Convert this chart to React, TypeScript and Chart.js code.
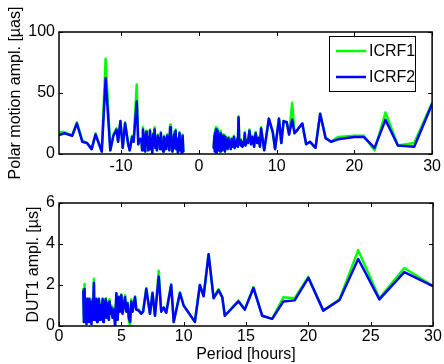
import React, { useEffect, useRef } from 'react';
import { Chart, registerables } from 'chart.js';

Chart.register(...registerables);

// ---------- Top panel: polar motion amplitude [µas] vs period [hours] ----------
const topPeriod = [
  -18, -17.3, -16.3, -15.7, -15.0, -14.4, -13.8, -13.3, -12.5, -12.0,
  -11.4, -11.0, -10.6, -10.4, -10.1, -9.8, -9.5, -9.1, -8.9, -8.6,
  -8.4, -8.0, -7.8, -7.6,
  -7.4, -7.3, -7.2, -7.1, -7.0, -6.9, -6.8, -6.7, -6.6, -6.5,
  -6.4, -6.3, -6.2, -6.1, -6.0, -5.9, -5.8, -5.7, -5.6, -5.5,
  -5.4, -5.3, -5.2, -5.1, -5.0, -4.9, -4.8, -4.7, -4.6, -4.5,
  -4.4, -4.3, -4.2, -4.1, -4.0, -3.9, -3.8, -3.7, -3.6, -3.5,
  -3.4, -3.3, -3.2, -3.1, -3.0, -2.9, -2.8, -2.7, -2.6, -2.5,
  -2.4, -2.3, -2.2, -2.1, -2.0,
  0,
  1.9, 2.0, 2.05, 2.1, 2.15, 2.2, 2.25, 2.3, 2.35, 2.4,
  2.5, 2.55, 2.6, 2.7, 2.75, 2.8, 2.9, 2.95, 3.0, 3.1,
  3.2, 3.3, 3.35, 3.4, 3.5, 3.6, 3.7, 3.8, 3.9, 4.0,
  4.1, 4.2, 4.3, 4.4, 4.5, 4.6, 4.7, 4.8, 4.9, 5.0,
  5.1, 5.2, 5.3, 5.4, 5.5, 5.6, 5.7, 5.8, 5.9, 6.0,
  6.1, 6.3, 6.5, 6.7, 6.9, 7.1, 7.3, 7.5, 7.7, 7.85,
  8.0, 8.4, 9.0, 9.5, 9.8, 10.3, 10.6, 10.9, 11.3, 11.6,
  12.0, 12.3, 12.7, 13.3, 13.8, 14.3, 15.0, 15.6, 16.3, 17.0,
  17.9, 20.0, 21.2, 22.6, 24.0, 25.6, 27.7, 30,
];

const topICRF1 = [
  18, 18, 15, 26, 11, 9, 4, 17, 2, 78,
  3, 16, 21, 10, 27, 5, 26, 8, 3, 15,
  11, 57, 8, 13,
  13, 3, 22, 5, 16, 2, 19, 8, 15, 3,
  11, 20, 4, 13, 1, 17, 7, 22, 5, 12,
  3, 16, 8, 14, 4, 18, 6, 11, 2, 15,
  9, 13, 4, 16, 7, 12, 3, 24, 6, 14,
  2, 11, 18, 5, 20, 4, 13, 1, 10, 18,
  3, 12, 0, 16, 2,
  null,
  6, 17, 2, 20, 4, 22, 1, 15, 6, 21,
  3, 18, 5, 14, 2, 19, 7, 13, 3, 16,
  5, 11, 2, 15, 6, 12, 4, 14, 7, 10,
  4, 13, 6, 9, 15, 5, 11, 7, 13, 6,
  31, 8, 12, 7, 11, 6, 10, 8, 18, 7,
  12, 9, 20, 8, 15, 6, 18, 9, 14, 6,
  22, 3, 29, 18, 4, 29, 9, 27, 26, 16,
  42, 17, 20, 25, 8, 10, 5, 33, 13, 10,
  14, 15, 15, 3, 34, 7, 9, 42,
];

const topICRF2 = [
  15.5, 17, 15, 25, 10, 9, 4, 16, 2, 62,
  3, 15, 20, 10, 27, 5, 25, 8, 3, 14,
  10, 43, 8, 12,
  12, 3, 20, 5, 15, 2, 18, 8, 14, 3,
  10, 19, 4, 12, 1, 16, 7, 20, 5, 11,
  3, 15, 8, 13, 4, 17, 6, 10, 2, 14,
  9, 12, 4, 15, 7, 11, 3, 22, 6, 13,
  2, 10, 16, 5, 19, 4, 12, 1, 9, 17,
  3, 11, 0, 15, 2,
  null,
  5, 15, 2, 18, 4, 20, 1, 14, 6, 19,
  3, 16, 5, 13, 2, 17, 7, 12, 3, 15,
  5, 10, 2, 14, 6, 11, 4, 13, 7, 9,
  4, 12, 6, 8, 14, 5, 10, 7, 12, 6,
  30, 8, 11, 7, 10, 6, 9, 8, 17, 7,
  11, 9, 19, 8, 14, 6, 17, 9, 13, 6,
  21, 3, 29, 18, 4, 29, 9, 27, 26, 16,
  28, 17, 20, 25, 8, 10, 5, 33, 13, 10,
  12, 14, 14, 5, 28, 7, 6, 41,
];

const topXTicks = [-10, 0, 10, 20, 30];
const topYTicks = [0, 50, 100];

// ---------- Bottom panel: DUT1 amplitude [µs] vs period [hours] ----------
const botPeriod = [
  1.95, 2.0, 2.05, 2.1, 2.15, 2.2, 2.25, 2.3, 2.35, 2.4,
  2.45, 2.5, 2.55, 2.6, 2.65, 2.7, 2.8, 2.85, 2.9, 2.95,
  3.0, 3.05, 3.1, 3.15, 3.2, 3.3, 3.35, 3.4, 3.5, 3.55,
  3.6, 3.7, 3.75, 3.8, 3.9, 4.0, 4.05, 4.1, 4.2, 4.3,
  4.4, 4.5, 4.6, 4.7, 4.8, 4.9, 5.0, 5.1, 5.2, 5.3,
  5.4, 5.5, 5.6, 5.7, 5.8, 5.9, 6.1, 6.2, 6.4, 6.6,
  6.75, 7.0, 7.3, 7.5, 7.7, 8.0, 8.2, 8.4, 8.6, 9.0,
  9.2, 9.7, 10.0, 10.9, 11.3, 11.6, 12.0, 12.4, 12.8, 13.1,
  13.3, 14.4, 14.9, 15.6, 16.3, 17.1, 18.0, 18.9, 20.0, 21.2,
  22.5, 24.0, 25.7, 27.7, 30,
];

const botICRF1 = [
  1.8, 0.2, 2.05, 0.3, 1.3, 0.1, 1.35, 0.4, 1.2, 0.2,
  1.35, 0.5, 1.1, 0.1, 1.3, 0.3, 2.3, 0.3, 1.3, 0.6,
  1.35, 0.2, 1.2, 0.5, 1.35, 0.3, 1.1, 0.6, 1.35, 0.2,
  1.3, 0.5, 1.35, 0.4, 1.2, 0.3, 1.3, 0.6, 1.0, 0.4,
  0.9, 0.0, 1.6, 0.3, 1.45, 0.7, 1.55, 0.6, 1.1, 1.5,
  0.7, 1.15, 0.3, 0.0, 1.3, 0.7, 1.45, 0.8, 0.8, 0.6,
  0.75, 1.85, 0.6, 1.65, 0.5, 2.7, 0.7, 0.9, 0.65, 2.05,
  0.2, 1.65, 1.0, 0.2, 2.0, 1.5, 3.5, 1.4, 1.8, 1.4,
  0.5, 1.25, 0.8, 1.9, 0.5, 0.35, 1.4, 1.35, 2.4, 0.75,
  1.3, 3.7, 1.35, 2.83, 1.95,
];

const botICRF2 = [
  1.7, 0.2, 1.8, 0.3, 1.2, 0.1, 1.3, 0.4, 1.1, 0.2,
  1.3, 0.5, 1.0, 0.1, 1.2, 0.3, 2.1, 0.3, 1.2, 0.6,
  1.3, 0.2, 1.1, 0.5, 1.3, 0.3, 1.0, 0.6, 1.3, 0.2,
  1.2, 0.5, 1.3, 0.4, 1.1, 0.3, 1.2, 0.6, 0.9, 0.4,
  0.8, 0.0, 1.6, 0.3, 1.4, 0.7, 1.5, 0.6, 1.0, 1.4,
  0.7, 1.1, 0.4, 0.2, 1.2, 0.7, 1.4, 0.8, 0.75, 0.6,
  0.7, 1.8, 0.6, 1.6, 0.5, 2.4, 0.7, 0.9, 0.65, 2.0,
  0.2, 1.6, 1.0, 0.2, 2.0, 1.45, 3.5, 1.35, 1.75, 1.4,
  0.5, 1.2, 0.8, 1.85, 0.5, 0.35, 1.2, 1.25, 2.35, 0.75,
  1.27, 3.27, 1.3, 2.63, 1.95,
];

const botXTicks = [0, 5, 10, 15, 20, 25, 30];
const botYTicks = [0, 2, 4, 6];

const seriesLabels = ['ICRF1', 'ICRF2'];
const seriesColors = ['#00ff00', '#0000ff'];

const FONT = "'Liberation Sans', Arial, Helvetica, sans-serif";

// Draws the MATLAB-style box with inward ticks on all four sides.
const boxPlugin = {
  id: 'boxTicks',
  afterDatasetsDraw(chart: any) {
    const { ctx, chartArea } = chart;
    const { left, right, top, bottom } = chartArea;
    const xs = chart.scales.x;
    const ys = chart.scales.y;
    const tl = 4;
    ctx.save();
    ctx.strokeStyle = '#000';
    ctx.lineWidth = 1;
    ctx.beginPath();
    xs.ticks.forEach((t: any) => {
      const px = Math.round(xs.getPixelForValue(t.value)) + 0.5;
      ctx.moveTo(px, bottom);
      ctx.lineTo(px, bottom - tl);
      ctx.moveTo(px, top);
      ctx.lineTo(px, top + tl);
    });
    ys.ticks.forEach((t: any) => {
      const py = Math.round(ys.getPixelForValue(t.value)) + 0.5;
      ctx.moveTo(left, py);
      ctx.lineTo(left + tl, py);
      ctx.moveTo(right, py);
      ctx.lineTo(right - tl, py);
    });
    ctx.stroke();
    ctx.lineWidth = 1.5;
    ctx.strokeRect(left, top, right - left, bottom - top);
    ctx.restore();
  },
};

const legendPlugin = {
  id: 'boxLegend',
  afterDraw(chart: any) {
    const { ctx } = chart;
    const x0 = 329, y0 = 36, w = 86, h = 55;
    ctx.save();
    ctx.fillStyle = '#fff';
    ctx.fillRect(x0, y0, w, h);
    ctx.strokeStyle = '#000';
    ctx.lineWidth = 1;
    ctx.strokeRect(x0 + 0.5, y0 + 0.5, w, h);
    chart.data.datasets.forEach((ds: any, i: number) => {
      const y = y0 + 15 + i * 26;
      ctx.strokeStyle = ds.borderColor;
      ctx.lineWidth = 2.5;
      ctx.beginPath();
      ctx.moveTo(x0 + 7, y);
      ctx.lineTo(x0 + 37, y);
      ctx.stroke();
      ctx.fillStyle = '#000';
      ctx.font = `16px ${FONT}`;
      ctx.textBaseline = 'middle';
      ctx.textAlign = 'left';
      ctx.fillText(ds.label, x0 + 40, y + 1);
    });
    ctx.restore();
  },
};

type PanelCfg = {
  period: number[];
  s1: (number | null)[];
  s2: (number | null)[];
  xMin: number; xMax: number; xTicks: number[];
  yMin: number; yMax: number; yTicks: number[];
  yTitle: string; xTitle?: string;
  padLeft: number; padTop: number; yWidth: number; xHeight: number; xPad: number;
  legend: boolean;
};

function buildConfig(c: PanelCfg): any {
  const mk = (vals: (number | null)[]) => c.period.map((p, i) => ({ x: p, y: vals[i] }));
  const tickFont = { family: FONT, size: 16 };
  return {
    type: 'line',
    data: {
      datasets: [
        { label: seriesLabels[0], data: mk(c.s1), borderColor: seriesColors[0], backgroundColor: seriesColors[0], order: 2 },
        { label: seriesLabels[1], data: mk(c.s2), borderColor: seriesColors[1], backgroundColor: seriesColors[1], order: 1 },
      ],
    },
    options: {
      responsive: false,
      maintainAspectRatio: false,
      animation: false,
      spanGaps: false,
      layout: { padding: { left: c.padLeft, right: 11, top: c.padTop, bottom: 0 } },
      plugins: { legend: { display: false }, tooltip: { enabled: false } },
      elements: {
        point: { radius: 0, hoverRadius: 0 },
        line: { tension: 0, borderWidth: 2.5, borderJoinStyle: 'round', borderCapStyle: 'round' },
      },
      scales: {
        x: {
          type: 'linear',
          min: c.xMin,
          max: c.xMax,
          grid: { display: false, drawTicks: false },
          border: { display: false },
          afterBuildTicks: (s: any) => { s.ticks = c.xTicks.map((v) => ({ value: v })); },
          ticks: { color: '#000', font: tickFont, padding: c.xPad, maxRotation: 0, autoSkip: false },
          title: c.xTitle
            ? { display: true, text: c.xTitle, color: '#000', font: tickFont, padding: 0 }
            : { display: false },
          afterFit: (s: any) => { s.height = c.xHeight; },
        },
        y: {
          type: 'linear',
          min: c.yMin,
          max: c.yMax,
          grid: { display: false, drawTicks: false },
          border: { display: false },
          afterBuildTicks: (s: any) => { s.ticks = c.yTicks.map((v) => ({ value: v })); },
          ticks: { color: '#000', font: tickFont, padding: 4, autoSkip: false },
          title: { display: true, text: c.yTitle, color: '#000', font: tickFont, padding: 0 },
          afterFit: (s: any) => { s.width = c.yWidth; },
        },
      },
    },
    plugins: c.legend ? [boxPlugin, legendPlugin] : [boxPlugin],
  };
}

function Panel({ cfg, top }: { cfg: PanelCfg; top: number }) {
  const ref = useRef<HTMLCanvasElement | null>(null);
  useEffect(() => {
    if (!ref.current) return;
    const chart = new Chart(ref.current, buildConfig(cfg));
    return () => chart.destroy();
  }, [cfg]);
  return (
    <canvas
      ref={ref}
      width={444}
      height={182}
      style={{ position: 'absolute', left: 0, top, width: 444, height: 182, display: 'block' }}
    />
  );
}

const topCfg: PanelCfg = {
  period: topPeriod, s1: topICRF1, s2: topICRF2,
  xMin: -18, xMax: 30, xTicks: topXTicks,
  yMin: 0, yMax: 100, yTicks: topYTicks,
  yTitle: 'Polar motion ampl. [µas]',
  padLeft: 5.5, padTop: 32, yWidth: 53.5, xHeight: 28, xPad: 3,
  legend: true,
};

const botCfg: PanelCfg = {
  period: botPeriod, s1: botICRF1, s2: botICRF2,
  xMin: 0, xMax: 30, xTicks: botXTicks,
  yMin: 0, yMax: 6, yTicks: botYTicks,
  yTitle: 'DUT1 ampl. [µs]', xTitle: 'Period [hours]',
  padLeft: 23.5, padTop: 21, yWidth: 35.5, xHeight: 38, xPad: 1,
  legend: false,
};

export default function App() {
  return (
    <div style={{ position: 'absolute', left: 0, top: 0, width: 444, height: 364, background: '#fff', overflow: 'hidden' }}>
      <Panel cfg={topCfg} top={0} />
      <Panel cfg={botCfg} top={182} />
    </div>
  );
}
